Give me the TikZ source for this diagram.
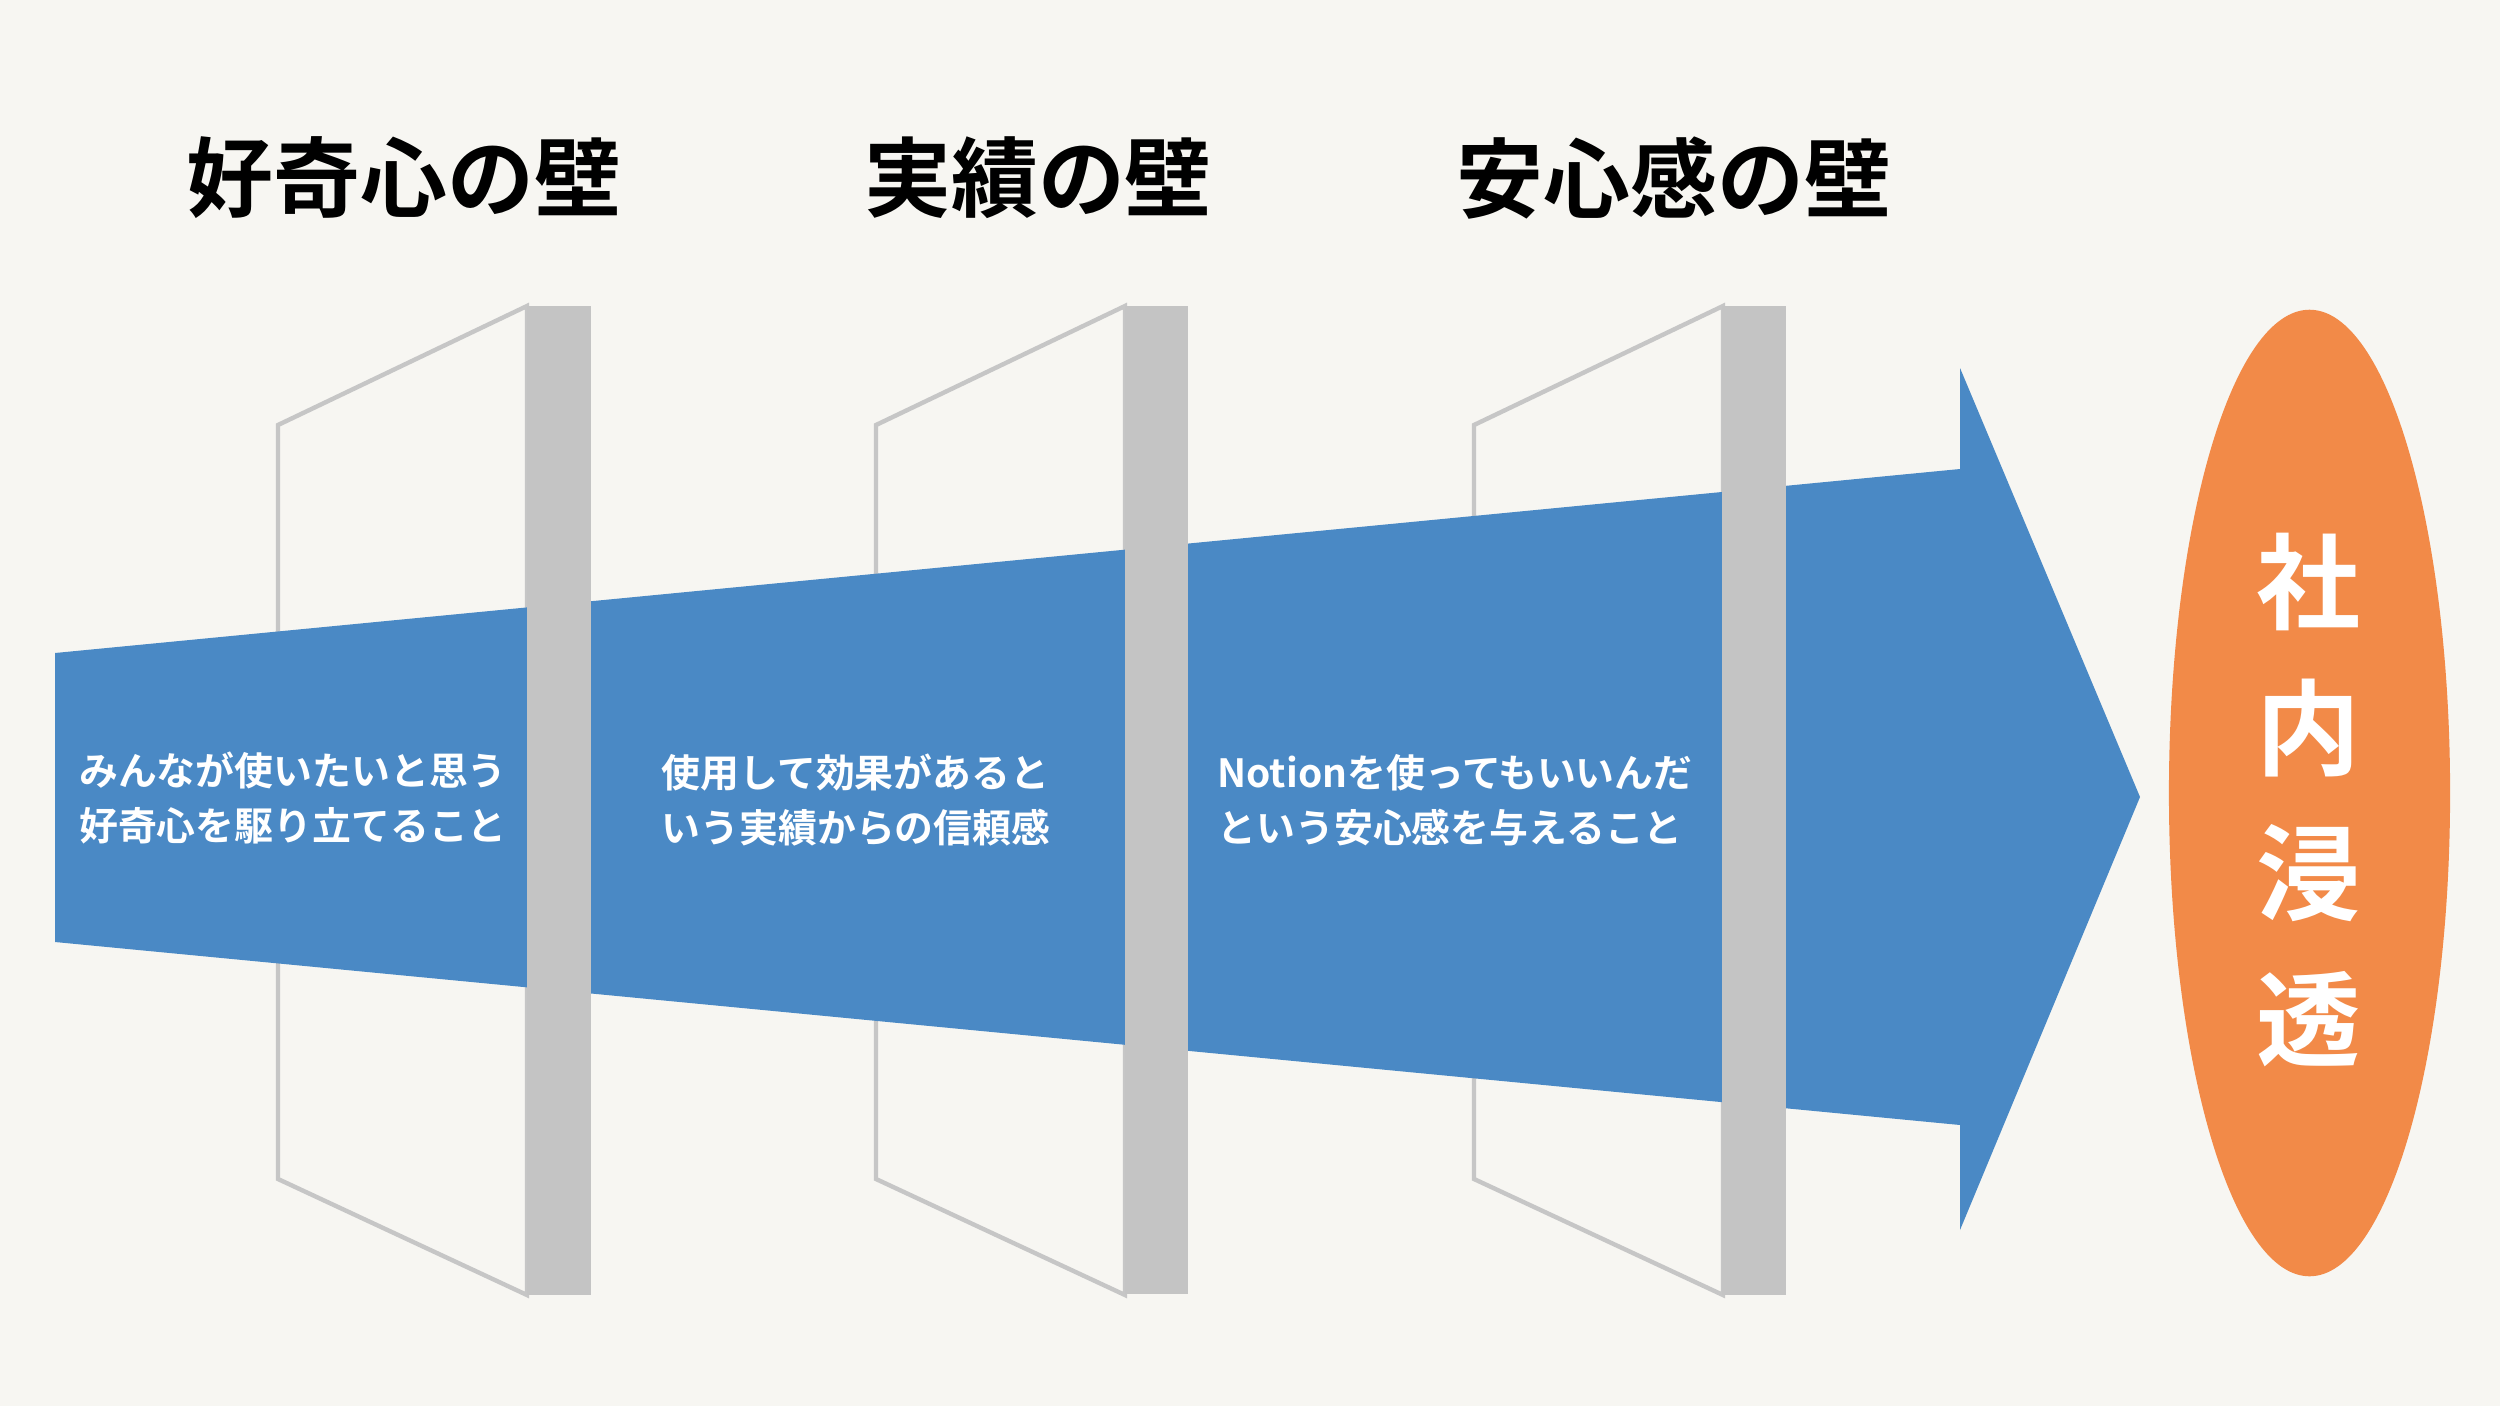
\documentclass[tikz,border=0pt]{standalone}
\usepackage{fontspec}
\setmainfont{Noto Sans CJK JP}[BoldFont={Noto Sans CJK JP Bold}]
\usetikzlibrary{shapes.geometric}
\definecolor{bgc}{HTML}{F7F6F2}
\definecolor{arrowblue}{HTML}{4A89C5}
\definecolor{wallgray}{HTML}{C4C4C4}
\definecolor{edgegray}{HTML}{C6C6C6}
\definecolor{goalorange}{HTML}{F28A48}
\tikzset{
  title/.style={font=\bfseries\fontsize{24.7pt}{30pt}\selectfont, text=black, inner sep=0pt},
  body/.style={font=\bfseries\fontsize{11.05pt}{15.65pt}\selectfont, text=white, align=left, inner sep=0pt},
  goaltext/.style={font=\bfseries\fontsize{29.6pt}{41.5pt}\selectfont, text=white, align=center, inner sep=0pt},
  wallbar/.style={fill=wallgray, draw=none},
  walledge/.style={draw=edgegray, line width=1.25pt, line join=miter},
}
\begin{document}
\begin{tikzpicture}[x=0.01cm,y=-0.01cm]
\fill[bgc] (0,0) rectangle (2500,1406);
\useasboundingbox (0,0) rectangle (2500,1406);

% wall outlines (behind the arrow)
\foreach \dx in {0,598,1196}{
  \draw[walledge] (278+\dx,425) -- (527+\dx,306) -- (527+\dx,1295) -- (278+\dx,1179) -- cycle;
}

% big arrow
\fill[arrowblue] (55,653) -- (1960,469) -- (1960,368) -- (2140,797) -- (1960,1230) -- (1960,1125) -- (55,942) -- cycle;

% wall bars
\fill[wallbar] (527,306) rectangle (591,1295);
\fill[wallbar] (1125,306) rectangle (1188,1294);
\fill[wallbar] (1722,306) rectangle (1786,1295);

% titles
\node[title] (t1) at (404,178) {好奇心の壁};
\node[title] (t2) at (1038,178) {実績の壁};
\node[title] (t3) at (1674,178) {安心感の壁};

% body texts
\node[body] (b1) at (293,798) {みんなが使いたいと思う\\好奇心を駆り立てること};
\node[body] (b2) at (856,800) {使用して効果があると\\いう実績からの信頼感};
\node[body] (b3) at (1455,800) {Notionを使ってもいいんだ\\という安心感を与えること};

% goal ellipse
\node[ellipse, fill=goalorange, draw=none, inner sep=0pt,
      minimum width=2.81cm, minimum height=9.66cm] (goal) at (2309.5,793) {};
\node[goaltext] (gt) at (2309,800) {社\\内\\浸\\透};
\end{tikzpicture}
\end{document}
